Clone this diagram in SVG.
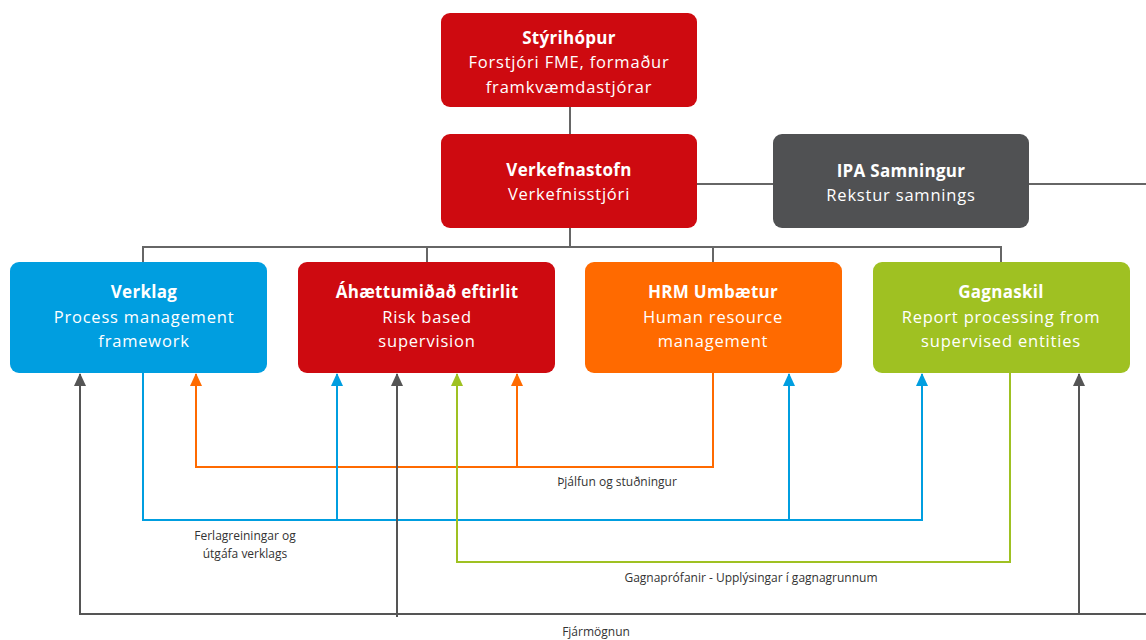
<svg xmlns="http://www.w3.org/2000/svg" width="1146" height="640" viewBox="0 0 1146 640">
<defs>
<style>
.t{font-family:"Open Sans","Liberation Sans",sans-serif;font-size:16.5px;fill:#fff;text-anchor:middle;letter-spacing:0.8px}
.b{font-weight:bold;font-size:17px;letter-spacing:0.3px}
.l{font-family:"Open Sans","Liberation Sans",sans-serif;font-size:12px;fill:#333;text-anchor:middle}
.tree{stroke:#666;stroke-width:2;fill:none}
.c{fill:none;stroke-width:2}
</style>
<marker id="ag" markerWidth="12" markerHeight="14" refX="6" refY="1" markerUnits="userSpaceOnUse" viewBox="0 0 12 14"><path d="M0,13 L6,0 L12,13 Z" fill="#555"/></marker>
<marker id="ab" markerWidth="12" markerHeight="14" refX="6" refY="1" markerUnits="userSpaceOnUse" viewBox="0 0 12 14"><path d="M0,13 L6,0 L12,13 Z" fill="#009EE0"/></marker>
<marker id="ao" markerWidth="12" markerHeight="14" refX="6" refY="1" markerUnits="userSpaceOnUse" viewBox="0 0 12 14"><path d="M0,13 L6,0 L12,13 Z" fill="#FF6A00"/></marker>
<marker id="agr" markerWidth="12" markerHeight="14" refX="6" refY="1" markerUnits="userSpaceOnUse" viewBox="0 0 12 14"><path d="M0,13 L6,0 L12,13 Z" fill="#9FC122"/></marker>
</defs>
<rect width="1146" height="640" fill="#fff"/>
<g id="connectors">
<path class="tree" d="M570,107 V134 M570,228 V247 M143,262 V247 H1001 V262 M427,247 V262 M713,247 V262 M697,184 H773 M1029,184 H1146"/>
<path class="c" stroke="#FF6A00" d="M713,373 V467 H196 V374" marker-end="url(#ao)"/>
<path class="c" stroke="#FF6A00" d="M517,467 V374" marker-end="url(#ao)"/>
<path class="c" stroke="#009EE0" d="M143,373 V520 H922 V374" marker-end="url(#ab)"/>
<path class="c" stroke="#009EE0" d="M337,520 V374" marker-end="url(#ab)"/>
<path class="c" stroke="#009EE0" d="M789,520 V374" marker-end="url(#ab)"/>
<path class="c" stroke="#9FC122" d="M1010,373 V562 H457 V374" marker-end="url(#agr)"/>
<path class="c" stroke="#555" d="M1146,614 H80 V374" marker-end="url(#ag)"/>
<path class="c" stroke="#555" d="M397,617 V374" marker-end="url(#ag)"/>
<path class="c" stroke="#555" d="M1079,614 V374" marker-end="url(#ag)"/>
<text class="l" x="617" y="486">Þjálfun og stuðningur</text>
<text class="l" x="245" y="540">Ferlagreiningar og</text>
<text class="l" x="245" y="558">útgáfa verklags</text>
<text class="l" x="751" y="582">Gagnaprófanir - Upplýsingar í gagnagrunnum</text>
<text class="l" x="596" y="636">Fjármögnun</text>
</g>
<g id="styrihopur">
<rect x="441" y="13" width="256" height="94" rx="9" fill="#CE0A10"/>
<text class="t b" x="569" y="44">Stýrihópur</text>
<text class="t" x="569" y="68">Forstjóri FME, formaður</text>
<text class="t" x="569" y="93">framkvæmdastjórar</text>
</g>
<g id="verkefnastofn">
<rect x="441" y="134" width="256" height="94" rx="9" fill="#CE0A10"/>
<text class="t b" x="569" y="176">Verkefnastofn</text>
<text class="t" x="569" y="200">Verkefnisstjóri</text>
</g>
<g id="ipa">
<rect x="773" y="134" width="256" height="94" rx="9" fill="#505153"/>
<text class="t b" x="901" y="177">IPA Samningur</text>
<text class="t" x="901" y="201">Rekstur samnings</text>
</g>
<g id="verklag">
<rect x="10" y="262" width="257" height="111" rx="9" fill="#009EE0"/>
<text class="t b" x="144" y="298">Verklag</text>
<text class="t" x="144" y="323">Process management</text>
<text class="t" x="144" y="347">framework</text>
</g>
<g id="ahaettumidad">
<rect x="298" y="262" width="257" height="111" rx="9" fill="#CE0A10"/>
<text class="t b" x="427" y="298">Áhættumiðað eftirlit</text>
<text class="t" x="427" y="323">Risk based</text>
<text class="t" x="427" y="347">supervision</text>
</g>
<g id="hrm">
<rect x="585" y="262" width="257" height="111" rx="9" fill="#FF6A00"/>
<text class="t b" x="713" y="298">HRM Umbætur</text>
<text class="t" x="713" y="323">Human resource</text>
<text class="t" x="713" y="347">management</text>
</g>
<g id="gagnaskil">
<rect x="873" y="262" width="257" height="111" rx="9" fill="#9FC122"/>
<text class="t b" x="1001" y="298">Gagnaskil</text>
<text class="t" x="1001" y="323">Report processing from</text>
<text class="t" x="1001" y="347">supervised entities</text>
</g>
</svg>
